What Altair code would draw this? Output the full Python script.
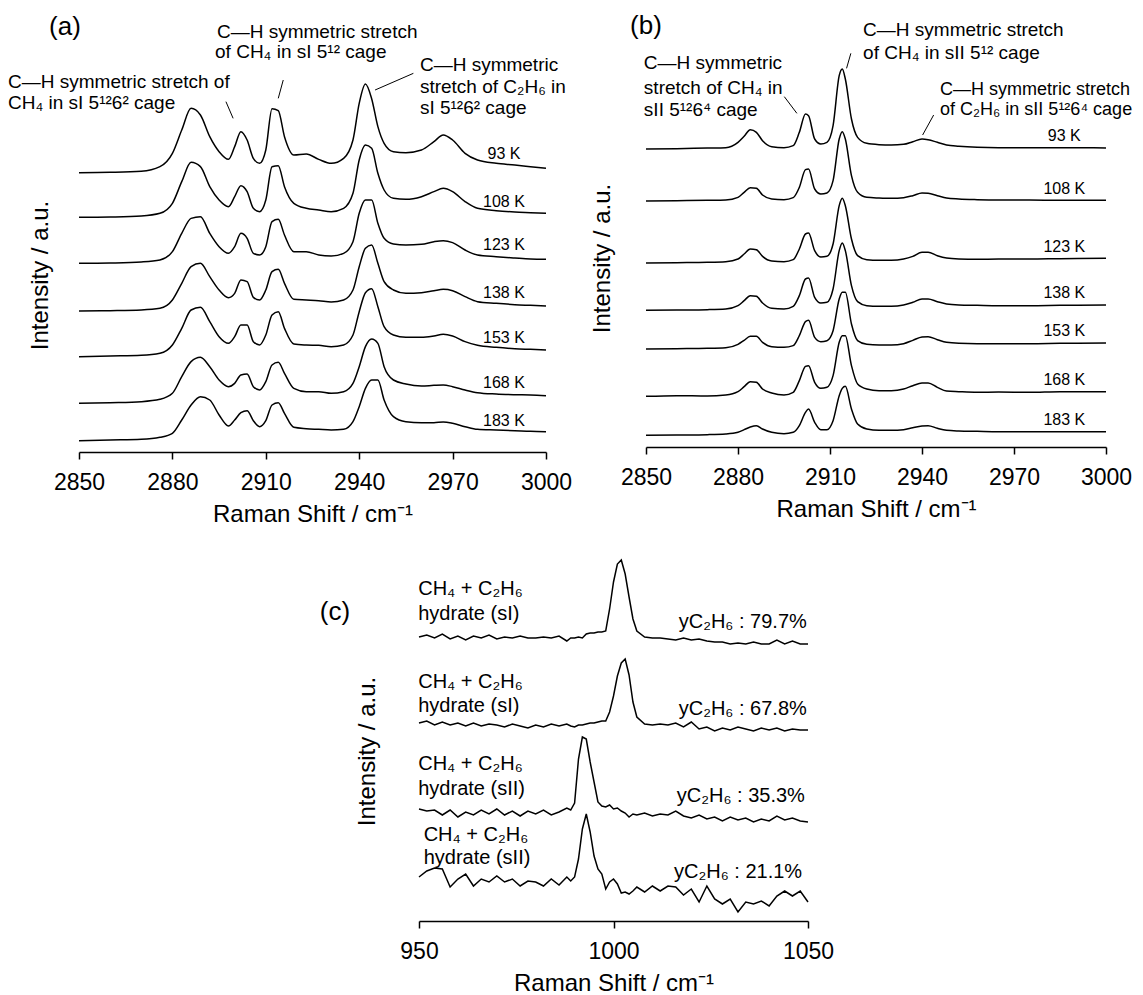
import altair as alt
import pandas as pd

FONT = "Liberation Sans"

# ---------------- panel (a): sI hydrate, C-H stretch region ----------------
a_shift = [2850, 2860, 2870, 2876, 2880, 2883, 2886, 2889, 2892, 2895, 2898, 2900, 2902, 2904,
           2906, 2908, 2910, 2912, 2914, 2916, 2919, 2923, 2927, 2931, 2935, 2938, 2940, 2942,
           2944, 2946, 2948, 2951, 2955, 2960, 2964, 2967, 2970, 2974, 2978, 2984, 2990, 2995, 3000]
a_93K = [838, 839, 842, 856, 896, 966, 1031, 1011, 946, 901, 878, 916, 961, 936, 881, 866, 906, 1030,
         1024, 946, 891, 894, 878, 866, 881, 936, 1046, 1104, 1060, 976, 926, 901, 898, 906, 931, 951,
         936, 896, 876, 866, 861, 856, 851]
a_108K = [704, 705, 708, 716, 746, 811, 869, 856, 796, 756, 736, 766, 799, 781, 731, 721, 756, 856,
          859, 796, 746, 731, 726, 721, 731, 776, 876, 921, 911, 836, 786, 761, 758, 766, 781, 791,
          781, 751, 731, 724, 720, 718, 716]
a_123K = [566, 567, 570, 576, 601, 656, 701, 706, 656, 616, 596, 616, 656, 641, 596, 591, 616, 691,
          698, 651, 601, 601, 591, 588, 596, 631, 716, 756, 756, 686, 641, 624, 621, 623, 631, 634,
          628, 606, 591, 586, 582, 579, 578]
a_138K = [423, 424, 426, 431, 456, 506, 556, 566, 526, 486, 463, 476, 516, 511, 464, 456, 486, 541,
          548, 506, 458, 456, 454, 450, 456, 486, 556, 611, 621, 566, 511, 486, 476, 478, 484, 488,
          484, 466, 451, 446, 442, 440, 438]
a_153K = [286, 288, 290, 296, 321, 371, 426, 434, 391, 346, 326, 346, 381, 381, 331, 321, 351, 411,
          421, 371, 324, 321, 320, 316, 321, 351, 421, 478, 490, 436, 376, 351, 344, 344, 348, 353,
          348, 331, 320, 314, 310, 308, 306]
a_168K = [146, 148, 151, 158, 176, 226, 271, 284, 256, 216, 196, 206, 231, 234, 196, 186, 211, 261,
          269, 236, 191, 181, 181, 176, 181, 206, 256, 316, 339, 326, 256, 216, 204, 198, 200, 201,
          196, 186, 178, 174, 172, 171, 169]
a_183K = [34, 36, 38, 44, 56, 96, 141, 166, 156, 111, 78, 96, 118, 124, 94, 76, 94, 141, 148, 116,
          74, 70, 68, 66, 68, 91, 136, 191, 216, 216, 156, 106, 91, 88, 88, 90, 86, 76, 68, 66, 64,
          62, 61]

temps = ["93 K", "108 K", "123 K", "138 K", "153 K", "168 K", "183 K"]
a_temp_I = [894, 751, 621, 476, 341, 206, 94]

a_note_text = ["C—H symmetric stretch of", "CH₄ in sI 5¹²6² cage",
               "C—H symmetric stretch", "of CH₄ in sI 5¹² cage",
               "C—H symmetric", "stretch of C₂H₆ in", "sI 5¹²6² cage"]
a_note_x = [2827.2, 2827.2, 2894.3, 2893.7, 2959.5, 2959.5, 2959.5]
a_note_I = [1110, 1047, 1260, 1200, 1161, 1095, 1032]
a_lead_x = [2897.2, 2915.6, 2945.1]
a_lead_I = [1051, 1116, 1086]
a_lead_x2 = [2899.5, 2914.0, 2957.4]
a_lead_I2 = [1001, 1061, 1136]

# ---------------- panel (b): sII hydrate ----------------
b_shift = [2850, 2860, 2870, 2876, 2880, 2882, 2884, 2886, 2888, 2891, 2895, 2898, 2900, 2902,
           2903, 2905, 2907, 2909, 2911, 2913, 2914, 2915, 2917, 2919, 2922, 2926, 2930, 2934,
           2937, 2940, 2942, 2945, 2948, 2952, 2958, 2965, 2975, 2985, 3000]
b_93K = [894, 895, 897, 898, 914, 932, 952, 944, 919, 901, 898, 904, 944, 999, 994, 924, 909, 914,
         964, 1114, 1134, 1104, 984, 929, 911, 907, 906, 908, 916, 924, 922, 914, 906, 902, 899, 898,
         898, 898, 897]
b_108K = [738, 739, 740, 741, 749, 764, 778, 776, 756, 744, 742, 748, 779, 832, 834, 774, 759, 762,
          799, 924, 946, 924, 814, 764, 749, 747, 746, 748, 754, 762, 761, 754, 747, 744, 742, 741,
          741, 740, 740]
b_123K = [552, 553, 554, 556, 564, 579, 594, 592, 572, 558, 556, 562, 594, 639, 642, 589, 570, 572,
          609, 724, 746, 724, 624, 574, 562, 560, 560, 564, 572, 584, 584, 574, 567, 564, 563, 564,
          564, 565, 566]
b_138K = [410, 411, 412, 414, 424, 439, 454, 452, 432, 416, 414, 422, 454, 504, 507, 449, 432, 434,
          474, 589, 612, 589, 484, 436, 424, 422, 422, 426, 434, 444, 444, 436, 429, 426, 425, 424,
          424, 425, 426]
b_153K = [294, 295, 296, 298, 308, 320, 332, 332, 314, 301, 299, 304, 334, 376, 380, 329, 316, 319,
          349, 444, 464, 464, 369, 319, 308, 306, 306, 310, 320, 330, 331, 322, 314, 311, 310, 310,
          310, 311, 312]
b_168K = [152, 154, 153, 156, 166, 181, 196, 194, 174, 162, 156, 164, 199, 242, 244, 194, 176, 179,
          214, 314, 334, 334, 244, 189, 174, 169, 169, 174, 184, 192, 192, 179, 168, 166, 164, 165,
          164, 166, 166]
b_183K = [35, 36, 37, 39, 44, 52, 60, 64, 54, 44, 40, 44, 64, 104, 114, 74, 52, 52, 79, 154, 176,
          182, 114, 69, 54, 50, 50, 52, 58, 63, 64, 56, 50, 48, 47, 46, 46, 46, 46]
b_temp_I = [932, 775, 601, 461, 347, 201, 81]

b_note_text = ["C—H symmetric", "stretch of CH₄ in", "sII 5¹²6⁴ cage",
               "C—H symmetric stretch", "of CH₄ in sII 5¹² cage"]
b_note_x = [2849.3, 2849.3, 2849.3, 2920.8, 2920.8]
b_note_I = [1152, 1077, 1011, 1251, 1181]
b_note2_text = ["C—H symmetric stretch", "of C₂H₆ in sII 5¹²6⁴ cage"]
b_note2_x = [2945.9, 2945.9]
b_note2_I = [1071, 1011]
b_lead_x = [2895.1, 2916.8, 2943.8]
b_lead_I = [1051, 1181, 996]
b_lead_x2 = [2899.2, 2915.4, 2940.2]
b_lead_I2 = [1001, 1136, 936]

# ---------------- panel (c): C-C stretch of ethane ----------------
c_shift = [950, 952, 954, 956, 958, 960, 962, 964, 966, 968, 970, 972, 974, 976, 978, 980, 982,
           984, 986, 988, 989, 990, 991, 992, 993, 994, 995, 996, 997, 998, 999, 1000, 1001, 1002,
           1003, 1004, 1005, 1006, 1008, 1010, 1012, 1014, 1016, 1018, 1020, 1022, 1024, 1026,
           1028, 1030, 1032, 1034, 1036, 1038, 1040, 1042, 1044, 1046, 1048, 1050]
c_797 = [284, 286, 283, 287, 282, 285, 281, 285, 283, 286, 282, 284, 283, 285, 283, 283, 284, 283,
         285, 280, 283, 283, 284, 283, 287, 288, 288, 289, 289, 290, 312, 339, 357, 361, 347, 324,
         302, 290, 284, 283, 283, 282, 281, 283, 281, 282, 280, 279, 279, 277, 278, 277, 279, 277,
         277, 281, 277, 280, 277, 277]
c_678 = [198, 200, 196, 199, 196, 198, 195, 198, 195, 197, 196, 194, 197, 195, 193, 196, 194, 197,
         195, 197, 195, 194, 196, 196, 197, 198, 198, 199, 200, 200, 209, 225, 245, 258, 262, 246,
         219, 204, 197, 196, 197, 196, 198, 194, 199, 192, 194, 190, 193, 191, 194, 192, 190, 193,
         191, 193, 190, 192, 191, 191]
c_353 = [112, 110, 111, 106, 111, 104, 109, 106, 111, 107, 112, 106, 110, 105, 110, 107, 111, 106,
         109, 113, 111, 118, 162, 184, 182, 159, 139, 119, 115, 114, 116, 112, 113, 110, 108, 104,
         107, 106, 108, 105, 107, 106, 110, 105, 103, 106, 102, 104, 100, 104, 101, 103, 99, 102,
         100, 105, 101, 103, 100, 99]
c_211 = [44, 50, 53, 52, 34, 42, 47, 35, 42, 39, 45, 39, 42, 35, 40, 39, 35, 42, 36, 44, 40, 44, 62,
         92, 107, 89, 65, 52, 47, 32, 39, 42, 37, 28, 29, 27, 30, 34, 29, 35, 30, 35, 34, 26, 32, 19,
         35, 22, 17, 22, 9, 19, 17, 20, 15, 25, 30, 25, 30, 19]
c_names = ["79.7%", "67.8%", "35.3%", "21.1%"]

c_left_text = ["CH₄ + C₂H₆", "hydrate (sI)", "CH₄ + C₂H₆", "hydrate (sI)",
               "CH₄ + C₂H₆", "hydrate (sII)", "CH₄ + C₂H₆", "hydrate (sII)"]
c_left_x = [949.8, 949.8, 949.8, 949.8, 949.8, 949.8, 951.2, 951.2]
c_left_I = [332, 307, 239, 215, 157, 132, 86, 63]
c_right_text = ["yC₂H₆ : 79.7%", "yC₂H₆ : 67.8%", "yC₂H₆ : 35.3%", "yC₂H₆ : 21.1%"]
c_right_x = [1049.7, 1049.7, 1049.2, 1048.5]
c_right_I = [299, 212, 125, 49]


def spectra(shift, names, series):
    rows = []
    for n, vals in zip(names, series):
        for s, v in zip(shift, vals):
            rows.append({"shift": s, "I": v, "series": n})
    return pd.DataFrame(rows)


def x_enc(dom, ticks):
    return alt.X("shift:Q", scale=alt.Scale(domain=dom, nice=False, zero=False),
                 axis=alt.Axis(values=ticks, format="d", title="Raman Shift / cm⁻¹",
                               domainColor="black", domainWidth=1.5, tickColor="black",
                               tickWidth=1.5, tickSize=7, labelFont=FONT, labelFontSize=23,
                               labelColor="black", labelPadding=12, labelOverlap=False,
                               labelFlush=False, titleFont=FONT, titleFontSize=24,
                               titleFontWeight="normal", titleColor="black", titleY=62,
                               titleBaseline="middle", grid=False))


def y_enc(dom, tx, ty):
    return alt.Y("I:Q", scale=alt.Scale(domain=dom, nice=False, zero=False),
                 axis=alt.Axis(title="Intensity / a.u.", domain=False, ticks=False,
                               labels=False, grid=False, titleX=tx, titleY=ty, titleAngle=270,
                               titleAlign="center", titleBaseline="middle", titleFont=FONT,
                               titleFontSize=24, titleFontWeight="normal", titleColor="black"))


def text_layer(xs, ys, labels, size, align, xe, ye):
    df = pd.DataFrame({"shift": xs, "I": ys, "t": labels})
    return alt.Chart(df).mark_text(font=FONT, fontSize=size, align=align, baseline="middle",
                                   color="black").encode(x=xe, y=ye, text="t:N")


def lead_layer(x1, y1, x2, y2, xe, ye):
    df = pd.DataFrame({"shift": x1, "I": y1, "shift2": x2, "I2": y2})
    return alt.Chart(df).mark_rule(color="black", strokeWidth=1).encode(
        x=xe, y=ye, x2="shift2:Q", y2="I2:Q")


LW = 1.5

# ---- panel (a)
xa = x_enc([2850, 3000], [2850, 2880, 2910, 2940, 2970, 3000])
ya = y_enc([0, 1332], -39, 267)
df_a = spectra(a_shift, temps, [a_93K, a_108K, a_123K, a_138K, a_153K, a_168K, a_183K])
panel_a = alt.layer(
    alt.Chart(df_a).mark_line(color="black", strokeWidth=LW, interpolate="monotone").encode(
        x=xa, y=ya, detail="series:N"),
    lead_layer(a_lead_x, a_lead_I, a_lead_x2, a_lead_I2, xa, ya),
    text_layer(a_note_x, a_note_I, a_note_text, 19, "left", xa, ya),
    text_layer([2986.5] * 7, a_temp_I, temps, 16, "center", xa, ya),
    text_layer([2845.5], [1275], ["(a)"], 26, "center", xa, ya),
).properties(width=467, height=444)

# ---- panel (b)
xb = x_enc([2850, 3000], [2850, 2880, 2910, 2940, 2970, 3000])
yb = y_enc([0, 1317], -44, 250)
df_b = spectra(b_shift, temps, [b_93K, b_108K, b_123K, b_138K, b_153K, b_168K, b_183K])
panel_b = alt.layer(
    alt.Chart(df_b).mark_line(color="black", strokeWidth=LW, interpolate="monotone").encode(
        x=xb, y=yb, detail="series:N"),
    lead_layer(b_lead_x, b_lead_I, b_lead_x2, b_lead_I2, xb, yb),
    text_layer(b_note_x, b_note_I, b_note_text, 19, "left", xb, yb),
    text_layer(b_note2_x, b_note2_I, b_note2_text, 18, "left", xb, yb),
    text_layer([2986.4] * 7, b_temp_I, temps, 16, "center", xb, yb),
    text_layer([2850.0], [1263], ["(b)"], 26, "center", xb, yb),
).properties(width=460, height=439)

# ---- panel (c)
xc = x_enc([950, 1050], [950, 1000, 1050])
yc = y_enc([0, 367], -52, 197)
df_c = spectra(c_shift, c_names, [c_797, c_678, c_353, c_211])
panel_c = alt.layer(
    alt.Chart(df_c).mark_line(color="black", strokeWidth=LW).encode(
        x=xc, y=yc, detail="series:N"),
    text_layer(c_left_x, c_left_I, c_left_text, 20, "left", xc, yc),
    text_layer(c_right_x, c_right_I, c_right_text, 20, "right", xc, yc),
    text_layer([928.4], [309], ["(c)"], 26, "center", xc, yc),
).properties(width=389, height=367)

spacer = alt.Chart(pd.DataFrame({"v": [0]})).mark_point(opacity=0, size=0).encode(
    x=alt.value(5), y=alt.value(0.5)).properties(width=240, height=1)

chart = alt.vconcat(
    alt.hconcat(panel_a, panel_b, spacing=18),
    alt.hconcat(spacer, panel_c, spacing=0),
    spacing=28,
).properties(padding=0).configure_view(stroke=None)

chart.save("out.html", embed_options={"renderer": "svg", "actions": False})
